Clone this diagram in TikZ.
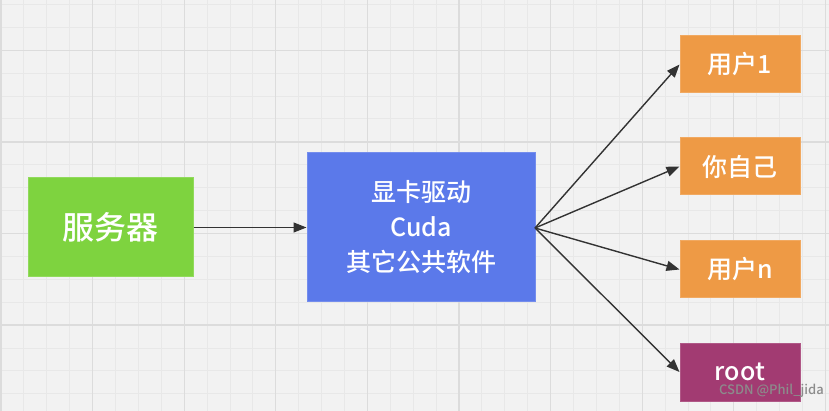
\documentclass[tikz,border=0pt]{standalone}
\usepackage{fontspec}
\setmainfont{Noto Sans CJK SC Medium}
\definecolor{bg}{HTML}{F2F2F2}
\definecolor{gmin}{HTML}{E8E8E8}
\definecolor{gmaj}{HTML}{DCDCDC}
\definecolor{grn}{HTML}{7ED33F}
\definecolor{blu}{HTML}{5B79EA}
\definecolor{org}{HTML}{EE9A45}
\definecolor{plum}{HTML}{A23B72}
\usetikzlibrary{arrows.meta}
\begin{document}
\begin{tikzpicture}[x=1pt,y=-1pt,
  box/.style={draw=#1!85!white,fill=#1,text=white,inner sep=0,line width=1pt},
  conn/.style={draw=black!80,line width=1.4pt,-{Triangle[length=13pt,width=10pt]}}]
\useasboundingbox (0,0) rectangle (829,411);
\begin{scope}
\clip (0,0) rectangle (829,411);
\fill[bg] (0,0) rectangle (829,411);
\foreach \i in {0,...,36} \draw[gmin,line width=1pt] (1+\i*22.9,0) -- (1+\i*22.9,411);
\foreach \i in {0,...,18} \draw[gmin,line width=1pt] (0,4.5+\i*22.9) -- (829,4.5+\i*22.9);
\foreach \i in {0,...,9} \draw[gmaj,line width=1.3pt] (1+\i*91.6,0) -- (1+\i*91.6,411);
\foreach \i in {0,...,4} \draw[gmaj,line width=1.3pt] (0,50.3+\i*91.6) -- (829,50.3+\i*91.6);
\end{scope}
\node[box=grn,minimum width=165pt,minimum height=99pt,font=\fontsize{32}{36}\selectfont] (srv) at (110.5,227.5) {服务器};
\node[box=blu,minimum width=228pt,minimum height=149pt,align=center,font=\fontsize{25}{35}\selectfont] (mid) at (421,227.5) {显卡驱动\\Cuda\\其它公共软件};
\node[box=org,minimum width=120pt,minimum height=57pt,font=\fontsize{25}{28}\selectfont] (u1) at (740,64.5) {用户1};
\node[box=org,minimum width=120pt,minimum height=57pt,font=\fontsize{25}{28}\selectfont] (me) at (740,166.5) {你自己};
\node[box=org,minimum width=120pt,minimum height=57pt,font=\fontsize{25}{28}\selectfont] (un) at (740,269.5) {用户n};
\node[box=plum,minimum width=120pt,minimum height=58pt,font=\fontsize{25}{28}\selectfont] (rt) at (740,372) {root};
\node[text=black!45,font=\fontsize{13}{14}\selectfont,anchor=east,inner sep=0] (wm) at (824,391) {CSDN @Phil\_jida};
\coordinate (src) at (535,228);
\draw[conn] (srv.east) -- (mid.west);
\draw[conn] (src) -- (u1.west);
\draw[conn] (src) -- (me.west);
\draw[conn] (src) -- (un.west);
\draw[conn] (src) -- (rt.west);
\end{tikzpicture}
\end{document}
